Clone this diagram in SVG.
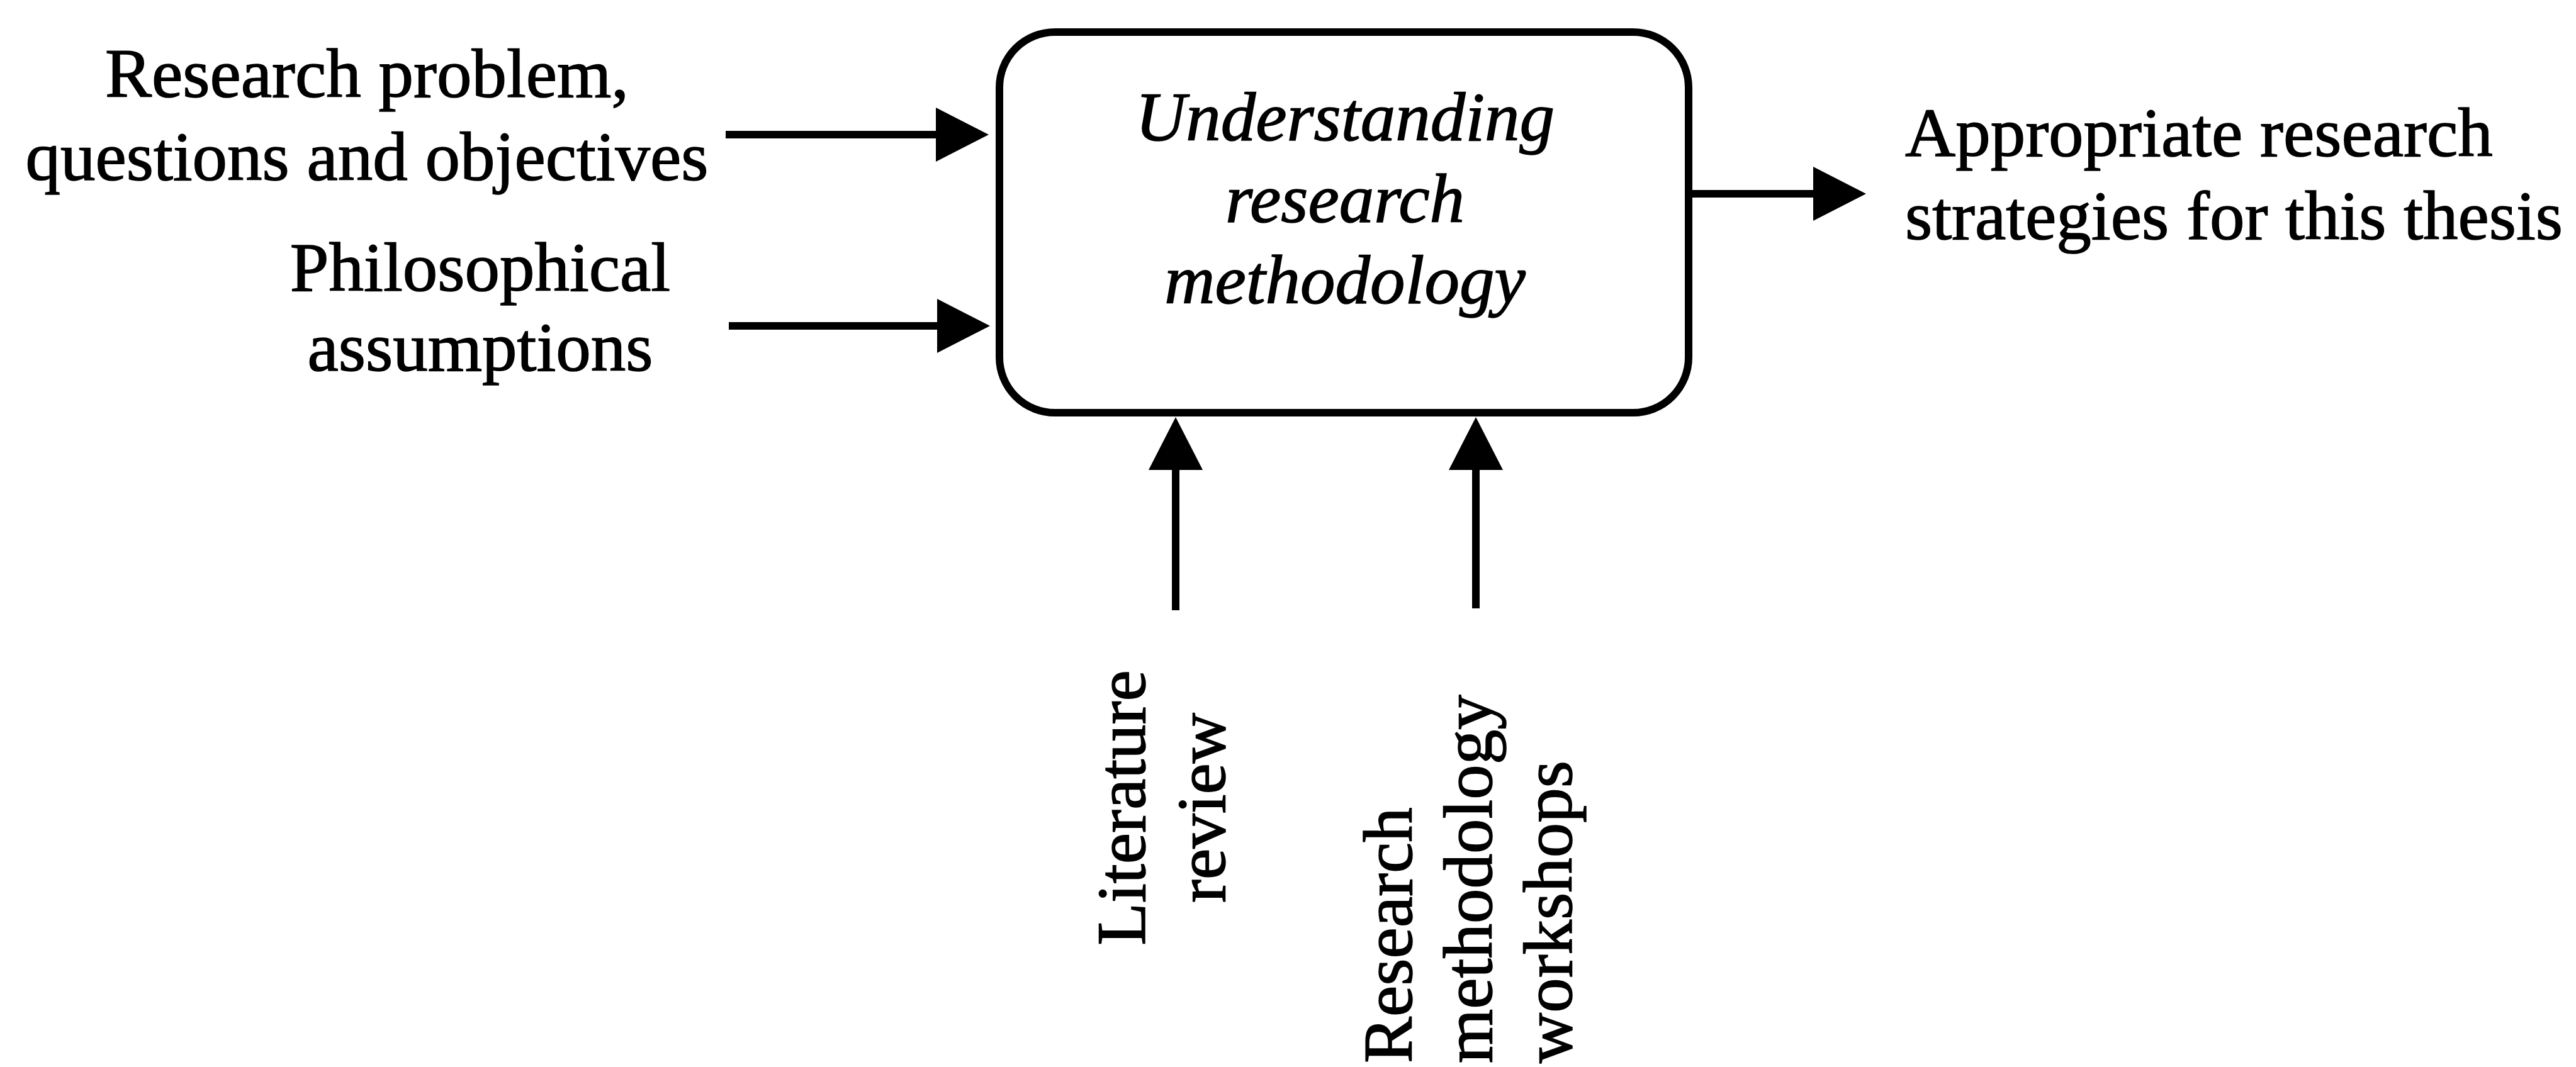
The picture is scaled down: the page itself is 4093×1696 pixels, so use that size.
<svg xmlns="http://www.w3.org/2000/svg" width="4093" height="1696" viewBox="0 0 4093 1696">
  <style>
    .lbl { font-family: "Liberation Serif", "Times New Roman", serif; font-size: 111px; fill: #000; stroke: #000; stroke-width: 1.5; }
    .mid { text-anchor: middle; }
    .it { font-style: italic; }
    .box { fill: #fff; stroke: #000; stroke-width: 12; }
    .conn { stroke: #000; stroke-width: 12; fill: none; }
  </style>
  <defs>
    <marker id="arrow" viewBox="0 -43 84 86" markerUnits="userSpaceOnUse" markerWidth="84" markerHeight="86" refX="2" refY="0" orient="auto">
      <path d="M0,-43 L84,0 L0,43 Z" fill="#000"/>
    </marker>
  </defs>
  <rect width="4093" height="1696" fill="#fff"/>

  <!-- central process -->
  <g id="node-methodology">
    <rect class="box" x="1588" y="51" width="1095" height="605" rx="88" ry="88"/>
    <text class="lbl it mid" x="2137" y="223">Understanding</text>
    <text class="lbl it mid" x="2137" y="353">research</text>
    <text class="lbl it mid" x="2137" y="482">methodology</text>
  </g>

  <!-- inputs -->
  <g id="node-problem">
    <text class="lbl mid" x="583" y="154">Research problem,</text>
    <text class="lbl mid" x="583" y="286">questions and objectives</text>
  </g>
  <g id="node-philosophy">
    <text class="lbl mid" x="763" y="462">Philosophical</text>
    <text class="lbl mid" x="763" y="589">assumptions</text>
  </g>

  <!-- output -->
  <g id="node-strategies">
    <text class="lbl" x="3027" y="248">Appropriate research</text>
    <text class="lbl" x="3027" y="380">strategies for this thesis</text>
  </g>

  <!-- mechanisms (vertical labels) -->
  <g id="node-literature">
    <text class="lbl mid" transform="translate(1819,1284) rotate(-90)">Literature</text>
    <text class="lbl mid" transform="translate(1946,1284) rotate(-90)">review</text>
  </g>
  <g id="node-workshops">
    <text class="lbl" transform="translate(2243,1690) rotate(-90)">Research</text>
    <text class="lbl" transform="translate(2370,1690) rotate(-90)">methodology</text>
    <text class="lbl" transform="translate(2497,1690) rotate(-90)">workshops</text>
  </g>

  <!-- connectors -->
  <g id="connectors">
    <line class="conn" x1="1153" y1="214" x2="1489" y2="214" marker-end="url(#arrow)"/>
    <line class="conn" x1="1158" y1="518" x2="1491" y2="518" marker-end="url(#arrow)"/>
    <line class="conn" x1="2683" y1="308" x2="2883" y2="308" marker-end="url(#arrow)"/>
    <line class="conn" x1="1868" y1="970" x2="1868" y2="745" marker-end="url(#arrow)"/>
    <line class="conn" x1="2345" y1="967" x2="2345" y2="745" marker-end="url(#arrow)"/>
  </g>
</svg>
